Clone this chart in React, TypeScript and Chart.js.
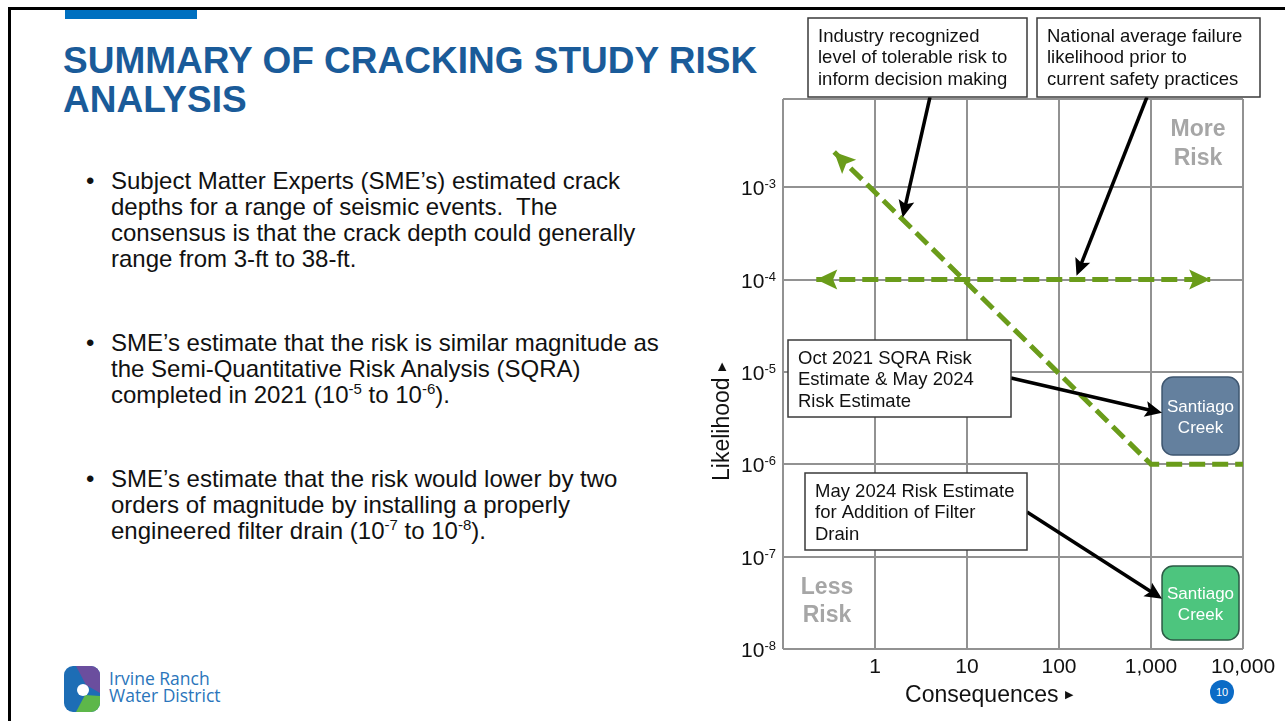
import React, { useEffect, useRef } from "react";
import { Chart, registerables } from "chart.js";

Chart.register(...registerables);

const FONT = "'Liberation Sans', Arial, Helvetica, sans-serif";

// ---- axes ----
const consequenceTicks = [0.1, 1, 10, 100, 1000, 10000];
const consequenceLabels = ["", "1", "10", "100", "1,000", "10,000"];
const likelihoodTicks = [1e-8, 1e-7, 1e-6, 1e-5, 1e-4, 1e-3];
const likelihoodExponents = ["-8", "-7", "-6", "-5", "-4", "-3"];
const X_MIN = 0.1;
const X_MAX = 10000;
const Y_MIN = 1e-8;
const Y_MAX = 0.009;

// ---- tolerable risk line (diagonal, then flat) ----
const tolerableX = [0.36, 1000, 10000];
const tolerableY = [2.4e-3, 1e-6, 1e-6];

// ---- national average failure likelihood ----
const nationalX = [0.23, 4400];
const nationalY = [1e-4, 1e-4];

// ---- Santiago Creek estimates (consequence / likelihood ranges) ----
const creekNames = ["Santiago Creek", "Santiago Creek"];
const creekXMin = [1318, 1318];
const creekXMax = [9050, 9050];
const creekYMin = [1.26e-6, 1.25e-8];
const creekYMax = [8.8e-6, 7.9e-8];

// ---- callouts ----
const noteLines = [
  ["Industry recognized", "level of tolerable risk to", "inform decision making"],
  ["National average failure", "likelihood prior to", "current safety practices"],
  ["Oct 2021 SQRA Risk", "Estimate & May 2024", "Risk Estimate"],
  ["May 2024 Risk Estimate", "for Addition of Filter", "Drain"],
];
const noteTargetX = [2.0, 155, 1318, 1318];
const noteTargetY = [4.7e-4, 1.1e-4, 3.6e-6, 3.5e-8];

const zoneTexts = [["More", "Risk"], ["Less", "Risk"]];

// ---- layout / style (canvas pixel coordinates) ----
const NOTE_BOX = [
  { x: 108, y: 18, w: 219, h: 79, sx: 230, sy: 97 },
  { x: 337, y: 18, w: 223, h: 79, sx: 447, sy: 97 },
  { x: 88, y: 340, w: 223, h: 77, sx: 311, sy: 378 },
  { x: 105, y: 473, w: 222, h: 77, sx: 327, sy: 512 },
];
const ZONE_POS = [
  { cx: 498, b: [136, 165] },
  { cx: 127, b: [594, 622] },
];
const GREEN = "#6A9C1A";
const GRID = "#929292";
const CREEK_FILL = ["#64809E", "#4DC57E"];
const CREEK_STROKE = ["#3E5670", "#2C5A45"];

function arrowHead(ctx, fx, fy, tx, ty, len, half, color) {
  const a = Math.atan2(ty - fy, tx - fx);
  const c = Math.cos(a);
  const s = Math.sin(a);
  ctx.save();
  ctx.fillStyle = color;
  ctx.beginPath();
  ctx.moveTo(tx, ty);
  ctx.lineTo(tx - len * c + half * s, ty - len * s - half * c);
  ctx.lineTo(tx - len * 0.8 * c, ty - len * 0.8 * s);
  ctx.lineTo(tx - len * c - half * s, ty - len * s + half * c);
  ctx.closePath();
  ctx.fill();
  ctx.restore();
}

function drawTitle(ctx, text, cx, cy, rotate) {
  ctx.save();
  ctx.translate(cx, cy);
  if (rotate) ctx.rotate(-Math.PI / 2);
  ctx.font = `23px ${FONT}`;
  const w1 = ctx.measureText(text + " ").width;
  ctx.font = `13px 'DejaVu Sans', ${FONT}`;
  const w2 = ctx.measureText("▶").width;
  const start = -(w1 + w2) / 2;
  ctx.textAlign = "left";
  ctx.font = `23px ${FONT}`;
  ctx.fillText(text, start, 0);
  ctx.font = `11px 'DejaVu Sans', ${FONT}`;
  ctx.fillText("▶", start + w1, -4);
  ctx.restore();
}

const overlayPlugin = {
  id: "overlay",
  beforeDatasetsDraw(chart) {
    const { ctx } = chart;
    const x = chart.scales.x;
    const y = chart.scales.y;
    ctx.save();
    ctx.fillStyle = "#A6A6A6";
    ctx.font = `bold 23px ${FONT}`;
    ctx.textAlign = "center";
    ctx.textBaseline = "alphabetic";
    zoneTexts.forEach((lines, i) => {
      lines.forEach((t, j) => ctx.fillText(t, ZONE_POS[i].cx, ZONE_POS[i].b[j]));
    });
    creekNames.forEach((name, i) => {
      const l = x.getPixelForValue(creekXMin[i]);
      const r = x.getPixelForValue(creekXMax[i]);
      const t = y.getPixelForValue(creekYMax[i]);
      const b = y.getPixelForValue(creekYMin[i]);
      ctx.beginPath();
      ctx.roundRect(l, t, r - l, b - t, 11);
      ctx.fillStyle = CREEK_FILL[i];
      ctx.fill();
      ctx.lineWidth = 1.5;
      ctx.strokeStyle = CREEK_STROKE[i];
      ctx.stroke();
      ctx.fillStyle = "#FFFFFF";
      ctx.font = `17px ${FONT}`;
      ctx.textAlign = "center";
      const cx = (l + r) / 2;
      const cy = (t + b) / 2;
      const parts = name.split(" ");
      ctx.fillText(parts[0], cx, cy - 4);
      ctx.fillText(parts[1], cx, cy + 17);
    });
    ctx.restore();
  },
  afterDatasetsDraw(chart) {
    const { ctx } = chart;
    const x = chart.scales.x;
    const y = chart.scales.y;
    const px = (v) => x.getPixelForValue(v);
    const py = (v) => y.getPixelForValue(v);
    ctx.save();
    arrowHead(ctx, px(tolerableX[1]), py(tolerableY[1]), px(tolerableX[0]), py(tolerableY[0]), 21, 10, GREEN);
    arrowHead(ctx, px(nationalX[1]), py(nationalY[1]), px(nationalX[0]), py(nationalY[0]), 21, 10, GREEN);
    arrowHead(ctx, px(nationalX[0]), py(nationalY[0]), px(nationalX[1]), py(nationalY[1]), 21, 10, GREEN);

    noteLines.forEach((_, i) => {
      const B = NOTE_BOX[i];
      const tx = px(noteTargetX[i]);
      const ty = py(noteTargetY[i]);
      const a = Math.atan2(ty - B.sy, tx - B.sx);
      ctx.strokeStyle = "#000";
      ctx.lineWidth = 3.5;
      ctx.beginPath();
      ctx.moveTo(B.sx, B.sy);
      ctx.lineTo(tx - 12 * Math.cos(a), ty - 12 * Math.sin(a));
      ctx.stroke();
      arrowHead(ctx, B.sx, B.sy, tx, ty, 17, 8, "#000");
    });
    noteLines.forEach((lines, i) => {
      const B = NOTE_BOX[i];
      ctx.fillStyle = "#FFFFFF";
      ctx.fillRect(B.x, B.y, B.w, B.h);
      ctx.strokeStyle = "#3A3A3A";
      ctx.lineWidth = 1.5;
      ctx.strokeRect(B.x, B.y, B.w, B.h);
      ctx.fillStyle = "#111";
      ctx.font = `18.5px ${FONT}`;
      ctx.textAlign = "left";
      lines.forEach((t, j) => ctx.fillText(t, B.x + 10, B.y + 23.5 + j * 21.8));
    });

    ctx.fillStyle = "#111";
    likelihoodTicks.forEach((v, i) => {
      const yy = py(v);
      ctx.font = `13px ${FONT}`;
      const sw = ctx.measureText(likelihoodExponents[i]).width;
      const supX = 76 - sw;
      ctx.textAlign = "left";
      ctx.fillText(likelihoodExponents[i], supX, yy + 1);
      ctx.font = `21px ${FONT}`;
      ctx.textAlign = "right";
      ctx.fillText("10", supX, yy + 8);
    });
    ctx.font = `21px ${FONT}`;
    ctx.textAlign = "center";
    consequenceTicks.forEach((v, i) => {
      if (consequenceLabels[i]) ctx.fillText(consequenceLabels[i], px(v), chart.chartArea.bottom + 24);
    });
    drawTitle(ctx, "Consequences", 290, 702, false);
    drawTitle(ctx, "Likelihood", 29, 421, true);
    ctx.restore();
  },
};

function RiskChart() {
  const ref = useRef(null);
  useEffect(() => {
    const chart = new Chart(ref.current, {
      type: "line",
      data: {
        datasets: [
          {
            label: "Tolerable risk",
            data: tolerableX.map((v, i) => ({ x: v, y: tolerableY[i] })),
            borderColor: GREEN,
            borderWidth: 5,
            borderDash: [16, 7],
            pointRadius: 0,
            tension: 0,
            fill: false,
          },
          {
            label: "National average",
            data: nationalX.map((v, i) => ({ x: v, y: nationalY[i] })),
            borderColor: GREEN,
            borderWidth: 5,
            borderDash: [16, 7],
            pointRadius: 0,
            tension: 0,
            fill: false,
          },
        ],
      },
      options: {
        animation: false,
        responsive: false,
        events: [],
        layout: { padding: { left: 83, right: 42, top: 99, bottom: 72 } },
        plugins: { legend: { display: false }, tooltip: { enabled: false } },
        scales: {
          x: {
            type: "logarithmic",
            min: X_MIN,
            max: X_MAX,
            bounds: "data",
            afterBuildTicks: (s) => {
              s.ticks = consequenceTicks.map((v) => ({ value: v }));
            },
            ticks: { display: false },
            grid: { color: GRID, lineWidth: 2, drawTicks: false },
            border: { display: false },
          },
          y: {
            type: "logarithmic",
            min: Y_MIN,
            max: Y_MAX,
            bounds: "data",
            afterBuildTicks: (s) => {
              s.ticks = [...likelihoodTicks, Y_MAX].map((v) => ({ value: v }));
            },
            ticks: { display: false },
            grid: { color: GRID, lineWidth: 2, drawTicks: false },
            border: { display: false },
          },
        },
      },
      plugins: [overlayPlugin],
    });
    return () => chart.destroy();
  }, []);
  return (
    <canvas
      ref={ref}
      width={585}
      height={721}
      style={{ position: "absolute", left: 700, top: 0, width: 585, height: 721 }}
    />
  );
}

const sup = { fontSize: 15, verticalAlign: "super", lineHeight: 0 };

export default function App() {
  const bulletText = {
    position: "absolute",
    left: 111,
    fontSize: 24,
    lineHeight: "26px",
    color: "#111",
    whiteSpace: "nowrap",
  } as React.CSSProperties;
  const dot = { position: "absolute", left: 86, fontSize: 24, lineHeight: "26px", color: "#111" } as React.CSSProperties;
  return (
    <div
      style={{
        position: "absolute",
        left: 0,
        top: 0,
        width: 1285,
        height: 721,
        overflow: "hidden",
        background: "#fff",
        fontFamily: FONT,
      }}
    >
      <div
        style={{
          position: "absolute",
          left: 8,
          top: 7,
          width: 1300,
          height: 740,
          borderLeft: "3px solid #000",
          borderTop: "3px solid #000",
          boxSizing: "border-box",
        }}
      />
      <div style={{ position: "absolute", left: 65, top: 10, width: 132, height: 9, background: "#0070C0" }} />
      <div
        style={{
          position: "absolute",
          left: 63,
          top: 41,
          fontSize: 37,
          lineHeight: "39px",
          fontWeight: "bold",
          color: "#1A5B99",
          whiteSpace: "nowrap",
        }}
      >
        SUMMARY OF CRACKING STUDY RISK
        <br />
        ANALYSIS
      </div>

      <div style={{ ...dot, top: 168 }}>•</div>
      <div style={{ ...bulletText, top: 168 }}>
        Subject Matter Experts (SME’s) estimated crack
        <br />
        depths for a range of seismic events.&nbsp; The
        <br />
        consensus is that the crack depth could generally
        <br />
        range from 3-ft to 38-ft.
      </div>

      <div style={{ ...dot, top: 330 }}>•</div>
      <div style={{ ...bulletText, top: 330 }}>
        SME’s estimate that the risk is similar magnitude as
        <br />
        the Semi-Quantitative Risk Analysis (SQRA)
        <br />
        completed in 2021 (10<span style={sup}>-5</span> to 10<span style={sup}>-6</span>).
      </div>

      <div style={{ ...dot, top: 466 }}>•</div>
      <div style={{ ...bulletText, top: 466 }}>
        SME’s estimate that the risk would lower by two
        <br />
        orders of magnitude by installing a properly
        <br />
        engineered filter drain (10<span style={sup}>-7</span> to 10<span style={sup}>-8</span>).
      </div>

      <svg style={{ position: "absolute", left: 64, top: 666 }} width="36" height="46" viewBox="0 0 36 46">
        <defs>
          <clipPath id="logoClip">
            <rect x="0" y="0" width="36" height="46" rx="9" />
          </clipPath>
        </defs>
        <g clipPath="url(#logoClip)">
          <rect x="0" y="0" width="36" height="46" fill="#1D6DB5" />
          <polygon points="12,0 36,0 36,27 22,19" fill="#6B4E9E" />
          <polygon points="12,46 36,46 36,30 21,29" fill="#5DB74A" />
          <circle cx="19" cy="24" r="6" fill="#fff" />
        </g>
      </svg>
      <div
        style={{
          position: "absolute",
          left: 109,
          top: 670,
          fontFamily: "'Open Sans', sans-serif",
          fontSize: 17.5,
          lineHeight: "17px",
          color: "#2A75BB",
          whiteSpace: "nowrap",
        }}
      >
        Irvine Ranch
        <br />
        Water District
      </div>

      <RiskChart />

      <div
        style={{
          position: "absolute",
          left: 1210,
          top: 680,
          width: 24,
          height: 24,
          borderRadius: 12,
          background: "#0B6BC6",
          color: "#fff",
          fontSize: 11,
          lineHeight: "24px",
          textAlign: "center",
        }}
      >
        10
      </div>
    </div>
  );
}
